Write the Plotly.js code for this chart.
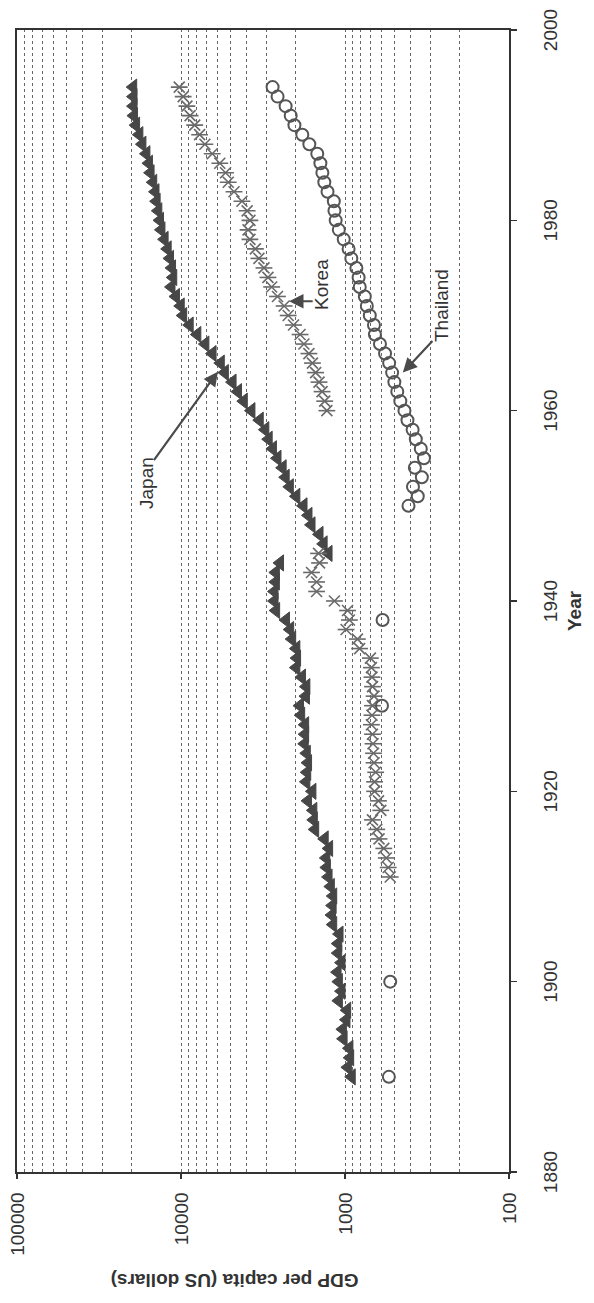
<!DOCTYPE html>
<html>
<head>
<meta charset="utf-8">
<script src="https://cdn.plot.ly/plotly-3.0.1.min.js"></script>
<style>
  html, body { margin: 0; padding: 0; background: #fff; }
  #wrap { position: relative; width: 594px; height: 1303px; overflow: hidden; background: #fff; }
  #plot { position: absolute; left: 0; top: 0; width: 1303px; height: 594px;
          transform-origin: 0 0; transform: translateY(1303px) rotate(-90deg); }
</style>
</head>
<body>
<div id="wrap"><div id="plot"></div></div>
<script>
// ---- data ----
const japanYears = [1890,1891,1892,1893,1894,1895,1896,1897,1898,1899,
  1900,1901,1902,1903,1904,1905,1906,1907,1908,1909,
  1910,1911,1912,1913,1914,1915,1916,1917,1918,1919,
  1920,1921,1922,1923,1924,1925,1926,1927,1928,1929,
  1930,1931,1932,1933,1934,1935,1936,1937,1938,1939,
  1940,1941,1942,1943,1944,
  1945,1946,1947,1948,1949,1950,1951,1952,1953,1954,
  1955,1956,1957,1958,1959,1960,1961,1962,1963,1964,
  1965,1966,1967,1968,1969,1970,1971,1972,1973,1974,
  1975,1976,1977,1978,1979,1980,1981,1982,1983,1984,
  1985,1986,1987,1988,1989,1990,1991,1992,1993,1994];
const japanGDP = [910,960,930,940,1020,1030,980,970,1090,1050,
  1090,1110,1050,1100,1100,1080,1180,1200,1190,1180,
  1220,1260,1290,1300,1250,1330,1520,1550,1560,1680,
  1580,1720,1700,1680,1710,1760,1750,1750,1850,1880,
  1730,1720,1830,1980,1960,1980,2100,2160,2290,2630,
  2690,2690,2640,2640,2490,
  1260,1350,1430,1600,1670,1790,1980,2170,2300,2400,
  2580,2750,2920,3060,3310,3720,4140,4490,4850,5400,
  5720,6420,7100,7950,8850,9700,10040,10730,11430,11150,
  11340,11670,12060,12590,13160,13430,13750,14080,14310,14770,
  15330,15680,16250,17190,17940,18790,19360,19480,19480,19570];

const koreaYears = [1911,1912,1913,1914,1915,1916,1917,1918,1919,
  1920,1921,1922,1923,1924,1925,1926,1927,1928,1929,
  1930,1931,1932,1933,1934,1935,1936,1937,1938,1939,
  1940,1941,1942,1943,1944,1945,
  1960,1961,1962,1963,1964,1965,1966,1967,1968,1969,
  1970,1971,1972,1973,1974,1975,1976,1977,1978,1979,
  1980,1981,1982,1983,1984,1985,1986,1987,1988,1989,
  1990,1991,1992,1993,1994];
const koreaGDP = [530,545,560,580,620,640,680,605,625,
  660,660,650,665,670,675,680,690,685,680,
  665,680,685,690,700,815,840,985,940,965,
  1160,1490,1490,1600,1430,1450,
  1290,1330,1380,1440,1510,1580,1660,1780,1880,2060,
  2220,2350,2580,2800,2950,3120,3350,3520,3800,3900,
  3800,3950,4250,4750,5150,5350,5800,6450,7150,7700,
  8250,8800,9200,9700,10250];

const thaiYears = [1890,1900,1929,1938,
  1950,1951,1952,1953,1954,1955,1956,1957,1958,1959,
  1960,1961,1962,1963,1964,1965,1966,1967,1968,1969,
  1970,1971,1972,1973,1974,1975,1976,1977,1978,1979,
  1980,1981,1982,1983,1984,1985,1986,1987,1988,1989,
  1990,1991,1992,1993,1994];
const thaiGDP = [540,530,595,590,
  410,360,385,340,375,330,345,370,387,416,
  434,460,480,500,516,538,570,612,657,666,
  706,736,757,813,826,852,915,951,1018,1091,
  1140,1160,1170,1278,1337,1374,1413,1476,1650,1821,
  2034,2143,2302,2577,2764];

const gdpTicks = [100, 1000, 10000, 100000];
const gdpTickText = ["100", "1000", "10000", "100000"];
const yearTicks = [1880, 1900, 1920, 1940, 1960, 1980, 2000];

// label anchors [year, gdp]
const labelJapan = {text: "Japan", head: [1964.1, 5960], tail: [-90, -65], pos: [1952.4, 16300]};
const labelKorea = {text: "Korea", head: [1971.5, 2190], tail: [0, 25], pos: [1973.3, 1390]};
const labelThai  = {text: "Thailand", head: [1964.0, 444], tail: [33, 31], pos: [1971.1, 259]};

// ---- chart ----
const FONT = "Liberation Sans, Arial, Helvetica, sans-serif";
const traces = [
  {x: japanYears, y: japanGDP, type: "scatter", mode: "markers", name: "Japan",
   marker: {symbol: "triangle-up", size: 14, color: "#474747", line: {color: "#474747", width: 1}}},
  {x: koreaYears, y: koreaGDP, type: "scatter", mode: "markers", name: "Korea",
   marker: {symbol: "x-thin-open", size: 11, color: "#6a6a6a", line: {color: "#6a6a6a", width: 1.6}}},
  {x: koreaYears, y: koreaGDP, type: "scatter", mode: "markers", name: "Korea", showlegend: false,
   marker: {symbol: "line-ns-open", size: 12, color: "#6a6a6a", line: {color: "#6a6a6a", width: 1.6}}},
  {x: thaiYears, y: thaiGDP, type: "scatter", mode: "markers", name: "Thailand",
   marker: {symbol: "circle-open", size: 12, color: "#555", line: {color: "#555", width: 2}}}
];

function arrowAnn(l) {
  return {x: l.head[0], y: Math.log10(l.head[1]), xref: "x", yref: "y", text: "",
          showarrow: true, ax: l.tail[0], ay: l.tail[1], arrowhead: 2, arrowsize: 1.3,
          arrowwidth: 2.2, arrowcolor: "#4a4a4a", standoff: 0, startstandoff: 0};
}
function textAnn(l) {
  return {x: l.pos[0], y: Math.log10(l.pos[1]), xref: "x", yref: "y", text: l.text,
          showarrow: false, font: {family: FONT, size: 19, color: "#333"},
          xanchor: "center", yanchor: "middle"};
}

const layout = {
  width: 1303, height: 594,
  margin: {l: 131, r: 30, t: 17, b: 85},
  paper_bgcolor: "#fff", plot_bgcolor: "#fff",
  showlegend: false,
  font: {family: FONT, size: 19, color: "#333"},
  xaxis: {
    range: [1880, 2000], tickvals: yearTicks, ticks: "outside", ticklen: 6, tickcolor: "#333",
    tickwidth: 1.2, showgrid: false, zeroline: false, showline: true, linecolor: "#333",
    linewidth: 1.6, mirror: true, ticklabelstandoff: 18,
    tickfont: {family: FONT, size: 19, color: "#333"}
  },
  yaxis: {
    type: "log", range: [2, 5], tickvals: gdpTicks, ticktext: gdpTickText,
    ticks: "outside", ticklen: 5, tickcolor: "#333", tickwidth: 1.2,
    showline: true, linecolor: "#333", linewidth: 1.6, mirror: true, zeroline: false,
    showgrid: true, gridcolor: "#666", gridwidth: 1, griddash: "3px,3px",
    minor: {dtick: "D1", showgrid: true, gridcolor: "#666", gridwidth: 1, griddash: "3px,3px", ticks: ""},
    ticklabelstandoff: 10,
    tickfont: {family: FONT, size: 19, color: "#333"}
  },
  annotations: [
    arrowAnn(labelJapan), arrowAnn(labelKorea), arrowAnn(labelThai),
    textAnn(labelJapan), textAnn(labelKorea), textAnn(labelThai),
    {x: 0.492, y: -0.134, xref: "paper", yref: "paper", text: "<b>Year</b>", showarrow: false,
     font: {family: FONT, size: 19, color: "#333"}, xanchor: "center", yanchor: "middle"},
    {x: -0.095, y: 0.557, xref: "paper", yref: "paper", text: "<b>GDP per capita (US dollars)</b>",
     showarrow: false, textangle: -90, font: {family: FONT, size: 19, color: "#333"},
     xanchor: "center", yanchor: "middle"}
  ]
};

Plotly.newPlot("plot", traces, layout, {staticPlot: true, displayModeBar: false, responsive: false});
</script>
</body>
</html>
